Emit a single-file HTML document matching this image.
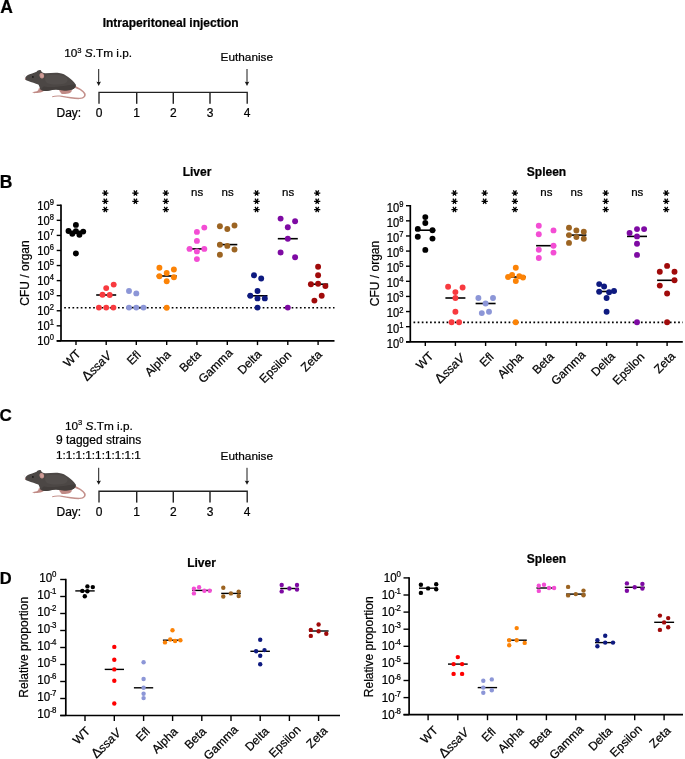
<!DOCTYPE html><html><head><meta charset="utf-8"><style>html,body{margin:0;padding:0;background:#fff;}svg{display:block;will-change:transform;}text{font-family:"Liberation Sans",sans-serif;fill:#000;stroke:#000;stroke-width:0.22px;}</style></head><body>
<svg width="685" height="759" viewBox="0 0 685 759">
<rect width="685" height="759" fill="#fff"/>
<text x="0.2" y="12.7" font-size="17.5" font-weight="bold">A</text>
<text x="-0.2" y="187.6" font-size="17.5" font-weight="bold">B</text>
<text x="-0.6" y="420.6" font-size="17" font-weight="bold">C</text>
<text x="-0.2" y="583.9" font-size="16.5" font-weight="bold">D</text>
<text x="170.7" y="26.9" font-size="12" font-weight="bold" text-anchor="middle">Intraperitoneal injection</text>
<text x="98.1" y="57.4" font-size="11.8" text-anchor="middle">10<tspan font-size="7.6" dy="-4.7">3</tspan><tspan dy="4.7"> <tspan font-style="italic">S</tspan>.Tm i.p.</tspan></text>
<g transform="translate(0,0)"><path d="M25.5 77.5 L23.8 74.8" stroke="#e4e0e0" stroke-width="0.6"/><path d="M74.8 85.8 C79 87.5 83.5 90 85.4 93.2 C86.6 96 84.6 98.6 80 99.1 C75 99.4 68 97.9 62 96.9 C58 96.4 54.8 96.5 52.3 97.3 L52.1 96.3 C55 95.3 58.5 95.2 62.2 95.8 C68 96.6 75 97.9 79.6 97.8 C83 97.6 84.4 96.2 84 94.2 C82.6 91.2 78.5 89.2 74.2 87.8 Z" fill="#c4918c"/><path d="M59.2 89.8 C61 89.4 66 89.2 71.3 89.6 C72.3 90.5 71.8 92.2 70 92.9 C68 93.6 65.5 93.9 63.5 94 C62 94 60.8 93.3 60.6 92.4 C59.8 91.6 59.2 90.8 59.2 89.8 Z" fill="#c08a85"/><path d="M38.8 88.2 C40.5 88.3 43.2 88.6 44.3 89.6 C44.4 90.8 43.5 91.6 42 92 C40 92.6 37.5 92.8 35.5 93.1 C33.8 93.3 32.4 93 32.5 92.3 C33.2 91.7 35 91.6 36.8 91.2 C38 90.8 38.6 89.8 38.8 88.2 Z" fill="#c08a85"/><path d="M25.0 78.7 C25.3 77.2 26.8 75.6 29 74.6 C31.5 73.5 34 72.7 36.6 71.7 C37.2 70.6 38.5 69.9 39.8 69.9 C40.8 69.9 41.3 70.6 41.4 71.6 C42.5 72.8 43.6 73.4 45.5 73.3 C50 73 55 72.6 59 72.9 C62.5 73.2 65.5 74.8 68.5 77.2 C71.5 79.6 74.2 82 75.5 84.2 C76.2 85.8 75.6 87.6 73.8 88.8 C71.5 90.2 68 90.6 64.5 90.4 C61.5 90.2 58.5 89.4 56 89.4 C52.5 89.6 49 90.6 45.5 90.9 C43 91 41 90.4 40.2 89.2 C39.6 87.6 39.4 85.8 38.3 84.6 C35.5 83.4 31.5 82.4 28.2 81.1 C26.2 80.3 24.9 79.6 25.0 78.7 Z" fill="#4c4745"/><path d="M44 86.5 C50 87.5 58 86.8 64 86 C68 85.4 72 84.5 75.6 84.6 C76 86.4 75.3 87.7 73.8 88.8 C71.5 90.2 68 90.6 64.5 90.4 C61.5 90.2 58.5 89.4 56 89.4 C52.5 89.6 49 90.6 45.5 90.9 C43.5 91 42 90.3 41.5 89.5 C41.8 88 42.6 87 44 86.5 Z" fill="#433e3c"/><path d="M47 75.2 C53 74.2 61 74.4 65.5 76.8 C68.5 79 68.2 82.2 64.5 83.6 C59 85 51.5 84.8 47.5 83.2 C44.8 81.8 44.2 77.2 47 75.2 Z" fill="#55504e" opacity="0.85"/><ellipse cx="41.8" cy="75.7" rx="2.3" ry="2.75" transform="rotate(-10 41.8 75.7)" fill="#c4918c"/><ellipse cx="42.1" cy="75.9" rx="1.2" ry="1.7" transform="rotate(-10 42.1 75.9)" fill="#cf9f9a"/><circle cx="32.9" cy="76.9" r="0.85" fill="#151212"/><circle cx="25.4" cy="78.8" r="0.65" fill="#c98f8f"/></g>
<path d="M99 103.80000000000001V92.4H247.2V103.80000000000001" stroke="#222" stroke-width="1.35" fill="none"/><path d="M136.7 92.4V103.80000000000001" stroke="#222" stroke-width="1.45"/><path d="M173.3 92.4V103.80000000000001" stroke="#222" stroke-width="1.45"/><path d="M210.0 92.4V103.80000000000001" stroke="#222" stroke-width="1.45"/><path d="M98.7 69V83" stroke="#1a1a1a" stroke-width="1"/><path d="M96.4 81.6Q98.7 82.6 101.0 81.6L98.7 86Z" fill="#1a1a1a"/><path d="M247 69V83" stroke="#1a1a1a" stroke-width="1"/><path d="M244.7 81.6Q247 82.6 249.3 81.6L247 86Z" fill="#1a1a1a"/><text x="56.5" y="117.4" font-size="12">Day:</text><text x="99" y="117.4" font-size="12" text-anchor="middle">0</text><text x="136.7" y="117.4" font-size="12" text-anchor="middle">1</text><text x="173.3" y="117.4" font-size="12" text-anchor="middle">2</text><text x="210.0" y="117.4" font-size="12" text-anchor="middle">3</text><text x="247.2" y="117.4" font-size="12" text-anchor="middle">4</text><text x="246.8" y="61" font-size="11.8" text-anchor="middle">Euthanise</text>
<text x="98.9" y="429.7" font-size="11.8" text-anchor="middle">10<tspan font-size="7.6" dy="-4.7">3</tspan><tspan dy="4.7"> <tspan font-style="italic">S</tspan>.Tm i.p.</tspan></text>
<text x="98.6" y="443.9" font-size="12" text-anchor="middle">9 tagged strains</text>
<text x="98.4" y="459.0" font-size="11.75" text-anchor="middle">1:1:1:1:1:1:1:1:1</text>
<g transform="translate(0,400)"><path d="M25.5 77.5 L23.8 74.8" stroke="#e4e0e0" stroke-width="0.6"/><path d="M74.8 85.8 C79 87.5 83.5 90 85.4 93.2 C86.6 96 84.6 98.6 80 99.1 C75 99.4 68 97.9 62 96.9 C58 96.4 54.8 96.5 52.3 97.3 L52.1 96.3 C55 95.3 58.5 95.2 62.2 95.8 C68 96.6 75 97.9 79.6 97.8 C83 97.6 84.4 96.2 84 94.2 C82.6 91.2 78.5 89.2 74.2 87.8 Z" fill="#c4918c"/><path d="M59.2 89.8 C61 89.4 66 89.2 71.3 89.6 C72.3 90.5 71.8 92.2 70 92.9 C68 93.6 65.5 93.9 63.5 94 C62 94 60.8 93.3 60.6 92.4 C59.8 91.6 59.2 90.8 59.2 89.8 Z" fill="#c08a85"/><path d="M38.8 88.2 C40.5 88.3 43.2 88.6 44.3 89.6 C44.4 90.8 43.5 91.6 42 92 C40 92.6 37.5 92.8 35.5 93.1 C33.8 93.3 32.4 93 32.5 92.3 C33.2 91.7 35 91.6 36.8 91.2 C38 90.8 38.6 89.8 38.8 88.2 Z" fill="#c08a85"/><path d="M25.0 78.7 C25.3 77.2 26.8 75.6 29 74.6 C31.5 73.5 34 72.7 36.6 71.7 C37.2 70.6 38.5 69.9 39.8 69.9 C40.8 69.9 41.3 70.6 41.4 71.6 C42.5 72.8 43.6 73.4 45.5 73.3 C50 73 55 72.6 59 72.9 C62.5 73.2 65.5 74.8 68.5 77.2 C71.5 79.6 74.2 82 75.5 84.2 C76.2 85.8 75.6 87.6 73.8 88.8 C71.5 90.2 68 90.6 64.5 90.4 C61.5 90.2 58.5 89.4 56 89.4 C52.5 89.6 49 90.6 45.5 90.9 C43 91 41 90.4 40.2 89.2 C39.6 87.6 39.4 85.8 38.3 84.6 C35.5 83.4 31.5 82.4 28.2 81.1 C26.2 80.3 24.9 79.6 25.0 78.7 Z" fill="#4c4745"/><path d="M44 86.5 C50 87.5 58 86.8 64 86 C68 85.4 72 84.5 75.6 84.6 C76 86.4 75.3 87.7 73.8 88.8 C71.5 90.2 68 90.6 64.5 90.4 C61.5 90.2 58.5 89.4 56 89.4 C52.5 89.6 49 90.6 45.5 90.9 C43.5 91 42 90.3 41.5 89.5 C41.8 88 42.6 87 44 86.5 Z" fill="#433e3c"/><path d="M47 75.2 C53 74.2 61 74.4 65.5 76.8 C68.5 79 68.2 82.2 64.5 83.6 C59 85 51.5 84.8 47.5 83.2 C44.8 81.8 44.2 77.2 47 75.2 Z" fill="#55504e" opacity="0.85"/><ellipse cx="41.8" cy="75.7" rx="2.3" ry="2.75" transform="rotate(-10 41.8 75.7)" fill="#c4918c"/><ellipse cx="42.1" cy="75.9" rx="1.2" ry="1.7" transform="rotate(-10 42.1 75.9)" fill="#cf9f9a"/><circle cx="32.9" cy="76.9" r="0.85" fill="#151212"/><circle cx="25.4" cy="78.8" r="0.65" fill="#c98f8f"/></g>
<path d="M99 502.6V491.20000000000005H247.2V502.6" stroke="#222" stroke-width="1.35" fill="none"/><path d="M136.7 491.20000000000005V502.6" stroke="#222" stroke-width="1.45"/><path d="M173.3 491.20000000000005V502.6" stroke="#222" stroke-width="1.45"/><path d="M210.0 491.20000000000005V502.6" stroke="#222" stroke-width="1.45"/><path d="M98.7 467.8V481.8" stroke="#1a1a1a" stroke-width="1"/><path d="M96.4 480.4Q98.7 481.4 101.0 480.4L98.7 484.8Z" fill="#1a1a1a"/><path d="M247 467.8V481.8" stroke="#1a1a1a" stroke-width="1"/><path d="M244.7 480.4Q247 481.4 249.3 480.4L247 484.8Z" fill="#1a1a1a"/><text x="56.5" y="516.2" font-size="12">Day:</text><text x="99" y="516.2" font-size="12" text-anchor="middle">0</text><text x="136.7" y="516.2" font-size="12" text-anchor="middle">1</text><text x="173.3" y="516.2" font-size="12" text-anchor="middle">2</text><text x="210.0" y="516.2" font-size="12" text-anchor="middle">3</text><text x="247.2" y="516.2" font-size="12" text-anchor="middle">4</text><text x="246.8" y="459.8" font-size="11.8" text-anchor="middle">Euthanise</text>
<path d="M61.0 204.57V340.9" stroke="#000" stroke-width="1.7"/><path d="M56.7 340.9H334.5" stroke="#000" stroke-width="1.7"/><path d="M56.7 340.90H61.0" stroke="#000" stroke-width="1.4"/><g transform="translate(54.0,345.15) scale(1,1.1)"><text x="0" y="0" font-size="11.2" text-anchor="end">10<tspan font-size="7.6" dy="-4.45">0</tspan></text></g><path d="M56.7 325.83H61.0" stroke="#000" stroke-width="1.4"/><g transform="translate(54.0,330.08) scale(1,1.1)"><text x="0" y="0" font-size="11.2" text-anchor="end">10<tspan font-size="7.6" dy="-4.45">1</tspan></text></g><path d="M56.7 310.76H61.0" stroke="#000" stroke-width="1.4"/><g transform="translate(54.0,315.01) scale(1,1.1)"><text x="0" y="0" font-size="11.2" text-anchor="end">10<tspan font-size="7.6" dy="-4.45">2</tspan></text></g><path d="M56.7 295.69H61.0" stroke="#000" stroke-width="1.4"/><g transform="translate(54.0,299.94) scale(1,1.1)"><text x="0" y="0" font-size="11.2" text-anchor="end">10<tspan font-size="7.6" dy="-4.45">3</tspan></text></g><path d="M56.7 280.62H61.0" stroke="#000" stroke-width="1.4"/><g transform="translate(54.0,284.87) scale(1,1.1)"><text x="0" y="0" font-size="11.2" text-anchor="end">10<tspan font-size="7.6" dy="-4.45">4</tspan></text></g><path d="M56.7 265.55H61.0" stroke="#000" stroke-width="1.4"/><g transform="translate(54.0,269.80) scale(1,1.1)"><text x="0" y="0" font-size="11.2" text-anchor="end">10<tspan font-size="7.6" dy="-4.45">5</tspan></text></g><path d="M56.7 250.48H61.0" stroke="#000" stroke-width="1.4"/><g transform="translate(54.0,254.73) scale(1,1.1)"><text x="0" y="0" font-size="11.2" text-anchor="end">10<tspan font-size="7.6" dy="-4.45">6</tspan></text></g><path d="M56.7 235.41H61.0" stroke="#000" stroke-width="1.4"/><g transform="translate(54.0,239.66) scale(1,1.1)"><text x="0" y="0" font-size="11.2" text-anchor="end">10<tspan font-size="7.6" dy="-4.45">7</tspan></text></g><path d="M56.7 220.34H61.0" stroke="#000" stroke-width="1.4"/><g transform="translate(54.0,224.59) scale(1,1.1)"><text x="0" y="0" font-size="11.2" text-anchor="end">10<tspan font-size="7.6" dy="-4.45">8</tspan></text></g><path d="M56.7 205.27H61.0" stroke="#000" stroke-width="1.4"/><g transform="translate(54.0,209.52) scale(1,1.1)"><text x="0" y="0" font-size="11.2" text-anchor="end">10<tspan font-size="7.6" dy="-4.45">9</tspan></text></g><path d="M76.0 340.9V345.09999999999997" stroke="#000" stroke-width="1.4"/><path d="M106.2 340.9V345.09999999999997" stroke="#000" stroke-width="1.4"/><path d="M136.3 340.9V345.09999999999997" stroke="#000" stroke-width="1.4"/><path d="M166.7 340.9V345.09999999999997" stroke="#000" stroke-width="1.4"/><path d="M196.9 340.9V345.09999999999997" stroke="#000" stroke-width="1.4"/><path d="M227.3 340.9V345.09999999999997" stroke="#000" stroke-width="1.4"/><path d="M257.5 340.9V345.09999999999997" stroke="#000" stroke-width="1.4"/><path d="M287.8 340.9V345.09999999999997" stroke="#000" stroke-width="1.4"/><path d="M318.1 340.9V345.09999999999997" stroke="#000" stroke-width="1.4"/><path d="M64.2 307.8H334.5" stroke="#000" stroke-width="1.6" stroke-dasharray="1.7 2.435"/><path d="M66.00 231.4H86.00" stroke="#000" stroke-width="1.6"/><path d="M96.20 295.0H116.20" stroke="#000" stroke-width="1.6"/><path d="M126.30 307.6H146.30" stroke="#000" stroke-width="1.6"/><path d="M156.70 276.0H176.70" stroke="#000" stroke-width="1.6"/><path d="M186.90 248.9H206.90" stroke="#000" stroke-width="1.6"/><path d="M217.30 244.6H237.30" stroke="#000" stroke-width="1.6"/><path d="M247.50 295.8H267.50" stroke="#000" stroke-width="1.6"/><path d="M277.80 238.7H297.80" stroke="#000" stroke-width="1.6"/><path d="M308.10 284.2H328.10" stroke="#000" stroke-width="1.6"/><circle cx="75.9" cy="224.9" r="2.95" fill="#000000"/><circle cx="68.5" cy="231.0" r="2.95" fill="#000000"/><circle cx="72.3" cy="233.8" r="2.95" fill="#000000"/><circle cx="75.9" cy="231.2" r="2.95" fill="#000000"/><circle cx="79.4" cy="234.7" r="2.95" fill="#000000"/><circle cx="83.2" cy="231.6" r="2.95" fill="#000000"/><circle cx="75.9" cy="253.5" r="2.95" fill="#000000"/><circle cx="113.7" cy="284.6" r="2.95" fill="#f83a3f"/><circle cx="106.2" cy="288.1" r="2.95" fill="#f83a3f"/><circle cx="102.5" cy="294.7" r="2.95" fill="#f83a3f"/><circle cx="109.7" cy="295.0" r="2.95" fill="#f83a3f"/><circle cx="98.9" cy="307.6" r="2.95" fill="#f83a3f"/><circle cx="106.2" cy="307.6" r="2.95" fill="#f83a3f"/><circle cx="113.4" cy="307.6" r="2.95" fill="#f83a3f"/><circle cx="129.0" cy="291.0" r="2.95" fill="#8c96d7"/><circle cx="136.3" cy="293.4" r="2.95" fill="#8c96d7"/><circle cx="129.0" cy="307.6" r="2.95" fill="#8c96d7"/><circle cx="136.3" cy="307.6" r="2.95" fill="#8c96d7"/><circle cx="143.5" cy="307.6" r="2.95" fill="#8c96d7"/><circle cx="159.4" cy="267.7" r="2.95" fill="#fc8306"/><circle cx="173.9" cy="269.5" r="2.95" fill="#fc8306"/><circle cx="166.7" cy="273.0" r="2.95" fill="#fc8306"/><circle cx="159.4" cy="276.3" r="2.95" fill="#fc8306"/><circle cx="173.9" cy="277.3" r="2.95" fill="#fc8306"/><circle cx="166.7" cy="281.3" r="2.95" fill="#fc8306"/><circle cx="166.7" cy="307.7" r="2.95" fill="#fc8306"/><circle cx="204.3" cy="227.6" r="2.95" fill="#f34dd4"/><circle cx="196.9" cy="231.9" r="2.95" fill="#f34dd4"/><circle cx="196.9" cy="240.9" r="2.95" fill="#f34dd4"/><circle cx="189.6" cy="248.9" r="2.95" fill="#f34dd4"/><circle cx="204.3" cy="248.9" r="2.95" fill="#f34dd4"/><circle cx="196.9" cy="251.4" r="2.95" fill="#f34dd4"/><circle cx="196.9" cy="259.1" r="2.95" fill="#f34dd4"/><circle cx="219.9" cy="226.3" r="2.95" fill="#9c6422"/><circle cx="227.3" cy="229.0" r="2.95" fill="#9c6422"/><circle cx="234.5" cy="225.5" r="2.95" fill="#9c6422"/><circle cx="219.9" cy="244.8" r="2.95" fill="#9c6422"/><circle cx="227.3" cy="245.9" r="2.95" fill="#9c6422"/><circle cx="234.5" cy="249.5" r="2.95" fill="#9c6422"/><circle cx="219.9" cy="254.7" r="2.95" fill="#9c6422"/><circle cx="254.0" cy="275.3" r="2.95" fill="#0e1a80"/><circle cx="261.2" cy="278.5" r="2.95" fill="#0e1a80"/><circle cx="257.5" cy="291.0" r="2.95" fill="#0e1a80"/><circle cx="250.3" cy="295.8" r="2.95" fill="#0e1a80"/><circle cx="257.5" cy="298.4" r="2.95" fill="#0e1a80"/><circle cx="264.8" cy="298.4" r="2.95" fill="#0e1a80"/><circle cx="257.5" cy="307.6" r="2.95" fill="#0e1a80"/><circle cx="280.6" cy="218.6" r="2.95" fill="#7e0aa3"/><circle cx="295.1" cy="221.3" r="2.95" fill="#7e0aa3"/><circle cx="287.8" cy="227.3" r="2.95" fill="#7e0aa3"/><circle cx="287.8" cy="238.7" r="2.95" fill="#7e0aa3"/><circle cx="280.6" cy="252.5" r="2.95" fill="#7e0aa3"/><circle cx="295.1" cy="257.2" r="2.95" fill="#7e0aa3"/><circle cx="287.8" cy="307.6" r="2.95" fill="#7e0aa3"/><circle cx="318.1" cy="266.8" r="2.95" fill="#a00a0a"/><circle cx="318.1" cy="275.2" r="2.95" fill="#a00a0a"/><circle cx="310.9" cy="284.2" r="2.95" fill="#a00a0a"/><circle cx="318.1" cy="283.8" r="2.95" fill="#a00a0a"/><circle cx="325.4" cy="286.1" r="2.95" fill="#a00a0a"/><circle cx="321.7" cy="295.8" r="2.95" fill="#a00a0a"/><circle cx="314.4" cy="300.6" r="2.95" fill="#a00a0a"/><path d="M102.20 193.00L108.40 193.00M103.75 190.32L106.85 195.68M106.85 190.32L103.75 195.68" stroke="#000" stroke-width="1.25" fill="none"/><path d="M102.20 201.25L108.40 201.25M103.75 198.57L106.85 203.93M106.85 198.57L103.75 203.93" stroke="#000" stroke-width="1.25" fill="none"/><path d="M102.20 209.50L108.40 209.50M103.75 206.82L106.85 212.18M106.85 206.82L103.75 212.18" stroke="#000" stroke-width="1.25" fill="none"/><path d="M132.30 193.00L138.50 193.00M133.85 190.32L136.95 195.68M136.95 190.32L133.85 195.68" stroke="#000" stroke-width="1.25" fill="none"/><path d="M132.30 201.25L138.50 201.25M133.85 198.57L136.95 203.93M136.95 198.57L133.85 203.93" stroke="#000" stroke-width="1.25" fill="none"/><path d="M162.70 193.00L168.90 193.00M164.25 190.32L167.35 195.68M167.35 190.32L164.25 195.68" stroke="#000" stroke-width="1.25" fill="none"/><path d="M162.70 201.25L168.90 201.25M164.25 198.57L167.35 203.93M167.35 198.57L164.25 203.93" stroke="#000" stroke-width="1.25" fill="none"/><path d="M162.70 209.50L168.90 209.50M164.25 206.82L167.35 212.18M167.35 206.82L164.25 212.18" stroke="#000" stroke-width="1.25" fill="none"/><text x="197.20" y="196.2" font-size="11.5" text-anchor="middle">ns</text><text x="227.60" y="196.2" font-size="11.5" text-anchor="middle">ns</text><path d="M253.50 193.00L259.70 193.00M255.05 190.32L258.15 195.68M258.15 190.32L255.05 195.68" stroke="#000" stroke-width="1.25" fill="none"/><path d="M253.50 201.25L259.70 201.25M255.05 198.57L258.15 203.93M258.15 198.57L255.05 203.93" stroke="#000" stroke-width="1.25" fill="none"/><path d="M253.50 209.50L259.70 209.50M255.05 206.82L258.15 212.18M258.15 206.82L255.05 212.18" stroke="#000" stroke-width="1.25" fill="none"/><text x="288.10" y="196.2" font-size="11.5" text-anchor="middle">ns</text><path d="M314.10 193.00L320.30 193.00M315.65 190.32L318.75 195.68M318.75 190.32L315.65 195.68" stroke="#000" stroke-width="1.25" fill="none"/><path d="M314.10 201.25L320.30 201.25M315.65 198.57L318.75 203.93M318.75 198.57L315.65 203.93" stroke="#000" stroke-width="1.25" fill="none"/><path d="M314.10 209.50L320.30 209.50M315.65 206.82L318.75 212.18M318.75 206.82L315.65 212.18" stroke="#000" stroke-width="1.25" fill="none"/><text transform="translate(29.0,273.0) rotate(-90)" font-size="12" text-anchor="middle">CFU / organ</text><text class="xl" transform="translate(81.50,354.50) rotate(-45)" font-size="12" text-anchor="end">WT</text><text class="xl" transform="translate(112.25,356.50) rotate(-45)" font-size="12" text-anchor="end"><tspan font-size="13.6">Δ</tspan><tspan font-style="italic">ssaV</tspan></text><text class="xl" transform="translate(141.60,355.70) rotate(-45)" font-size="12" text-anchor="end">Efl</text><text class="xl" transform="translate(171.50,355.35) rotate(-45)" font-size="12" text-anchor="end">Alpha</text><text class="xl" transform="translate(201.60,355.40) rotate(-45)" font-size="12" text-anchor="end">Beta</text><text class="xl" transform="translate(233.40,353.60) rotate(-45)" font-size="12" text-anchor="end">Gamma</text><text class="xl" transform="translate(262.20,355.10) rotate(-45)" font-size="12" text-anchor="end">Delta</text><text class="xl" transform="translate(292.20,355.90) rotate(-45)" font-size="12" text-anchor="end">Epsilon</text><text class="xl" transform="translate(322.80,355.30) rotate(-45)" font-size="12" text-anchor="end">Zeta</text>
<text x="197" y="175.6" font-size="12" font-weight="bold" text-anchor="middle">Liver</text>
<path d="M410.3 205.02000000000004V341.8" stroke="#000" stroke-width="1.7"/><path d="M406.0 341.8H682.8" stroke="#000" stroke-width="1.7"/><path d="M406.0 341.80H410.3" stroke="#000" stroke-width="1.4"/><g transform="translate(403.4,347.65) scale(1,1.1)"><text x="0" y="0" font-size="11.2" text-anchor="end">10<tspan font-size="7.6" dy="-4.45">0</tspan></text></g><path d="M406.0 326.68H410.3" stroke="#000" stroke-width="1.4"/><g transform="translate(403.4,332.53) scale(1,1.1)"><text x="0" y="0" font-size="11.2" text-anchor="end">10<tspan font-size="7.6" dy="-4.45">1</tspan></text></g><path d="M406.0 311.56H410.3" stroke="#000" stroke-width="1.4"/><g transform="translate(403.4,317.41) scale(1,1.1)"><text x="0" y="0" font-size="11.2" text-anchor="end">10<tspan font-size="7.6" dy="-4.45">2</tspan></text></g><path d="M406.0 296.44H410.3" stroke="#000" stroke-width="1.4"/><g transform="translate(403.4,302.29) scale(1,1.1)"><text x="0" y="0" font-size="11.2" text-anchor="end">10<tspan font-size="7.6" dy="-4.45">3</tspan></text></g><path d="M406.0 281.32H410.3" stroke="#000" stroke-width="1.4"/><g transform="translate(403.4,287.17) scale(1,1.1)"><text x="0" y="0" font-size="11.2" text-anchor="end">10<tspan font-size="7.6" dy="-4.45">4</tspan></text></g><path d="M406.0 266.20H410.3" stroke="#000" stroke-width="1.4"/><g transform="translate(403.4,272.05) scale(1,1.1)"><text x="0" y="0" font-size="11.2" text-anchor="end">10<tspan font-size="7.6" dy="-4.45">5</tspan></text></g><path d="M406.0 251.08H410.3" stroke="#000" stroke-width="1.4"/><g transform="translate(403.4,256.93) scale(1,1.1)"><text x="0" y="0" font-size="11.2" text-anchor="end">10<tspan font-size="7.6" dy="-4.45">6</tspan></text></g><path d="M406.0 235.96H410.3" stroke="#000" stroke-width="1.4"/><g transform="translate(403.4,241.81) scale(1,1.1)"><text x="0" y="0" font-size="11.2" text-anchor="end">10<tspan font-size="7.6" dy="-4.45">7</tspan></text></g><path d="M406.0 220.84H410.3" stroke="#000" stroke-width="1.4"/><g transform="translate(403.4,226.69) scale(1,1.1)"><text x="0" y="0" font-size="11.2" text-anchor="end">10<tspan font-size="7.6" dy="-4.45">8</tspan></text></g><path d="M406.0 205.72H410.3" stroke="#000" stroke-width="1.4"/><g transform="translate(403.4,211.57) scale(1,1.1)"><text x="0" y="0" font-size="11.2" text-anchor="end">10<tspan font-size="7.6" dy="-4.45">9</tspan></text></g><path d="M425.3 341.8V346.0" stroke="#000" stroke-width="1.4"/><path d="M455.4 341.8V346.0" stroke="#000" stroke-width="1.4"/><path d="M485.6 341.8V346.0" stroke="#000" stroke-width="1.4"/><path d="M515.8 341.8V346.0" stroke="#000" stroke-width="1.4"/><path d="M546.1 341.8V346.0" stroke="#000" stroke-width="1.4"/><path d="M576.4 341.8V346.0" stroke="#000" stroke-width="1.4"/><path d="M606.6 341.8V346.0" stroke="#000" stroke-width="1.4"/><path d="M637.0 341.8V346.0" stroke="#000" stroke-width="1.4"/><path d="M667.1 341.8V346.0" stroke="#000" stroke-width="1.4"/><path d="M413.5 322.35H682.8" stroke="#000" stroke-width="1.6" stroke-dasharray="1.7 2.435"/><path d="M415.30 230.2H435.30" stroke="#000" stroke-width="1.6"/><path d="M445.40 298.0H465.40" stroke="#000" stroke-width="1.6"/><path d="M475.60 303.5H495.60" stroke="#000" stroke-width="1.6"/><path d="M505.80 277.0H525.80" stroke="#000" stroke-width="1.6"/><path d="M536.10 245.7H556.10" stroke="#000" stroke-width="1.6"/><path d="M566.40 235.1H586.40" stroke="#000" stroke-width="1.6"/><path d="M596.60 291.5H616.60" stroke="#000" stroke-width="1.6"/><path d="M627.00 236.4H647.00" stroke="#000" stroke-width="1.6"/><path d="M657.10 280.3H677.10" stroke="#000" stroke-width="1.6"/><circle cx="425.3" cy="217.1" r="2.95" fill="#000000"/><circle cx="425.3" cy="223.0" r="2.95" fill="#000000"/><circle cx="417.8" cy="228.9" r="2.95" fill="#000000"/><circle cx="432.5" cy="230.2" r="2.95" fill="#000000"/><circle cx="417.8" cy="236.8" r="2.95" fill="#000000"/><circle cx="432.5" cy="238.6" r="2.95" fill="#000000"/><circle cx="425.3" cy="249.9" r="2.95" fill="#000000"/><circle cx="448.1" cy="286.7" r="2.95" fill="#f83a3f"/><circle cx="462.6" cy="287.5" r="2.95" fill="#f83a3f"/><circle cx="455.4" cy="292.1" r="2.95" fill="#f83a3f"/><circle cx="455.4" cy="298.0" r="2.95" fill="#f83a3f"/><circle cx="455.4" cy="311.8" r="2.95" fill="#f83a3f"/><circle cx="451.6" cy="322.3" r="2.95" fill="#f83a3f"/><circle cx="459.1" cy="322.3" r="2.95" fill="#f83a3f"/><circle cx="478.4" cy="298.0" r="2.95" fill="#8c96d7"/><circle cx="493.0" cy="298.0" r="2.95" fill="#8c96d7"/><circle cx="485.6" cy="303.5" r="2.95" fill="#8c96d7"/><circle cx="481.8" cy="313.1" r="2.95" fill="#8c96d7"/><circle cx="489.0" cy="311.8" r="2.95" fill="#8c96d7"/><circle cx="515.8" cy="267.8" r="2.95" fill="#fc8306"/><circle cx="512.1" cy="274.9" r="2.95" fill="#fc8306"/><circle cx="519.3" cy="276.2" r="2.95" fill="#fc8306"/><circle cx="508.1" cy="277.0" r="2.95" fill="#fc8306"/><circle cx="523.0" cy="277.5" r="2.95" fill="#fc8306"/><circle cx="515.8" cy="281.0" r="2.95" fill="#fc8306"/><circle cx="515.7" cy="322.3" r="2.95" fill="#fc8306"/><circle cx="538.8" cy="225.8" r="2.95" fill="#f34dd4"/><circle cx="553.5" cy="230.4" r="2.95" fill="#f34dd4"/><circle cx="538.8" cy="234.3" r="2.95" fill="#f34dd4"/><circle cx="553.5" cy="245.7" r="2.95" fill="#f34dd4"/><circle cx="538.8" cy="249.7" r="2.95" fill="#f34dd4"/><circle cx="553.5" cy="252.6" r="2.95" fill="#f34dd4"/><circle cx="538.8" cy="258.0" r="2.95" fill="#f34dd4"/><circle cx="569.0" cy="227.7" r="2.95" fill="#9c6422"/><circle cx="576.4" cy="230.5" r="2.95" fill="#9c6422"/><circle cx="583.8" cy="231.8" r="2.95" fill="#9c6422"/><circle cx="569.0" cy="235.1" r="2.95" fill="#9c6422"/><circle cx="576.4" cy="237.1" r="2.95" fill="#9c6422"/><circle cx="583.8" cy="238.8" r="2.95" fill="#9c6422"/><circle cx="569.0" cy="242.9" r="2.95" fill="#9c6422"/><circle cx="599.2" cy="284.1" r="2.95" fill="#0e1a80"/><circle cx="604.1" cy="286.5" r="2.95" fill="#0e1a80"/><circle cx="599.2" cy="291.8" r="2.95" fill="#0e1a80"/><circle cx="609.1" cy="292.3" r="2.95" fill="#0e1a80"/><circle cx="614.0" cy="291.0" r="2.95" fill="#0e1a80"/><circle cx="606.6" cy="298.0" r="2.95" fill="#0e1a80"/><circle cx="606.6" cy="311.7" r="2.95" fill="#0e1a80"/><circle cx="629.6" cy="233.0" r="2.95" fill="#7e0aa3"/><circle cx="637.0" cy="229.1" r="2.95" fill="#7e0aa3"/><circle cx="644.1" cy="229.1" r="2.95" fill="#7e0aa3"/><circle cx="637.0" cy="236.4" r="2.95" fill="#7e0aa3"/><circle cx="637.0" cy="243.8" r="2.95" fill="#7e0aa3"/><circle cx="637.0" cy="254.9" r="2.95" fill="#7e0aa3"/><circle cx="637.0" cy="322.2" r="2.95" fill="#7e0aa3"/><circle cx="667.1" cy="265.9" r="2.95" fill="#a00a0a"/><circle cx="659.8" cy="271.8" r="2.95" fill="#a00a0a"/><circle cx="674.5" cy="271.8" r="2.95" fill="#a00a0a"/><circle cx="674.5" cy="280.3" r="2.95" fill="#a00a0a"/><circle cx="659.8" cy="285.6" r="2.95" fill="#a00a0a"/><circle cx="667.1" cy="293.5" r="2.95" fill="#a00a0a"/><circle cx="667.1" cy="322.2" r="2.95" fill="#a00a0a"/><path d="M451.40 193.00L457.60 193.00M452.95 190.32L456.05 195.68M456.05 190.32L452.95 195.68" stroke="#000" stroke-width="1.25" fill="none"/><path d="M451.40 201.25L457.60 201.25M452.95 198.57L456.05 203.93M456.05 198.57L452.95 203.93" stroke="#000" stroke-width="1.25" fill="none"/><path d="M451.40 209.50L457.60 209.50M452.95 206.82L456.05 212.18M456.05 206.82L452.95 212.18" stroke="#000" stroke-width="1.25" fill="none"/><path d="M481.60 193.00L487.80 193.00M483.15 190.32L486.25 195.68M486.25 190.32L483.15 195.68" stroke="#000" stroke-width="1.25" fill="none"/><path d="M481.60 201.25L487.80 201.25M483.15 198.57L486.25 203.93M486.25 198.57L483.15 203.93" stroke="#000" stroke-width="1.25" fill="none"/><path d="M511.80 193.00L518.00 193.00M513.35 190.32L516.45 195.68M516.45 190.32L513.35 195.68" stroke="#000" stroke-width="1.25" fill="none"/><path d="M511.80 201.25L518.00 201.25M513.35 198.57L516.45 203.93M516.45 198.57L513.35 203.93" stroke="#000" stroke-width="1.25" fill="none"/><path d="M511.80 209.50L518.00 209.50M513.35 206.82L516.45 212.18M516.45 206.82L513.35 212.18" stroke="#000" stroke-width="1.25" fill="none"/><text x="546.40" y="196.2" font-size="11.5" text-anchor="middle">ns</text><text x="576.70" y="196.2" font-size="11.5" text-anchor="middle">ns</text><path d="M602.60 193.00L608.80 193.00M604.15 190.32L607.25 195.68M607.25 190.32L604.15 195.68" stroke="#000" stroke-width="1.25" fill="none"/><path d="M602.60 201.25L608.80 201.25M604.15 198.57L607.25 203.93M607.25 198.57L604.15 203.93" stroke="#000" stroke-width="1.25" fill="none"/><path d="M602.60 209.50L608.80 209.50M604.15 206.82L607.25 212.18M607.25 206.82L604.15 212.18" stroke="#000" stroke-width="1.25" fill="none"/><text x="637.30" y="196.2" font-size="11.5" text-anchor="middle">ns</text><path d="M663.10 193.00L669.30 193.00M664.65 190.32L667.75 195.68M667.75 190.32L664.65 195.68" stroke="#000" stroke-width="1.25" fill="none"/><path d="M663.10 201.25L669.30 201.25M664.65 198.57L667.75 203.93M667.75 198.57L664.65 203.93" stroke="#000" stroke-width="1.25" fill="none"/><path d="M663.10 209.50L669.30 209.50M664.65 206.82L667.75 212.18M667.75 206.82L664.65 212.18" stroke="#000" stroke-width="1.25" fill="none"/><text transform="translate(378.5,273.5) rotate(-90)" font-size="12" text-anchor="middle">CFU / organ</text><text class="xl" transform="translate(434.30,356.90) rotate(-45)" font-size="12" text-anchor="end">WT</text><text class="xl" transform="translate(465.30,359.00) rotate(-45)" font-size="12" text-anchor="end"><tspan font-size="13.6">Δ</tspan><tspan font-style="italic">ssaV</tspan></text><text class="xl" transform="translate(494.50,357.60) rotate(-45)" font-size="12" text-anchor="end">Efl</text><text class="xl" transform="translate(524.10,357.40) rotate(-45)" font-size="12" text-anchor="end">Alpha</text><text class="xl" transform="translate(554.70,357.40) rotate(-45)" font-size="12" text-anchor="end">Beta</text><text class="xl" transform="translate(586.20,355.60) rotate(-45)" font-size="12" text-anchor="end">Gamma</text><text class="xl" transform="translate(615.80,357.15) rotate(-45)" font-size="12" text-anchor="end">Delta</text><text class="xl" transform="translate(645.30,357.65) rotate(-45)" font-size="12" text-anchor="end">Epsilon</text><text class="xl" transform="translate(675.90,357.00) rotate(-45)" font-size="12" text-anchor="end">Zeta</text>
<text x="546.5" y="175.8" font-size="12" font-weight="bold" text-anchor="middle">Spleen</text>
<path d="M65.8 578.8V715.5" stroke="#000" stroke-width="1.7"/><path d="M60.199999999999996 715.5H340.0" stroke="#000" stroke-width="1.7"/><path d="M60.199999999999996 715.50H65.8" stroke="#000" stroke-width="1.4"/><g transform="translate(56.5,717.95) scale(1,1.1)"><text x="0" y="0" font-size="11.6" text-anchor="end">10<tspan font-size="7.9" dy="-4.45"><tspan font-size="6.32">-</tspan><tspan dx="-0.2">8</tspan></tspan></text></g><path d="M60.199999999999996 698.50H65.8" stroke="#000" stroke-width="1.4"/><g transform="translate(56.5,700.95) scale(1,1.1)"><text x="0" y="0" font-size="11.6" text-anchor="end">10<tspan font-size="7.9" dy="-4.45"><tspan font-size="6.32">-</tspan><tspan dx="-0.2">7</tspan></tspan></text></g><path d="M60.199999999999996 681.50H65.8" stroke="#000" stroke-width="1.4"/><g transform="translate(56.5,683.95) scale(1,1.1)"><text x="0" y="0" font-size="11.6" text-anchor="end">10<tspan font-size="7.9" dy="-4.45"><tspan font-size="6.32">-</tspan><tspan dx="-0.2">6</tspan></tspan></text></g><path d="M60.199999999999996 664.50H65.8" stroke="#000" stroke-width="1.4"/><g transform="translate(56.5,666.95) scale(1,1.1)"><text x="0" y="0" font-size="11.6" text-anchor="end">10<tspan font-size="7.9" dy="-4.45"><tspan font-size="6.32">-</tspan><tspan dx="-0.2">5</tspan></tspan></text></g><path d="M60.199999999999996 647.50H65.8" stroke="#000" stroke-width="1.4"/><g transform="translate(56.5,649.95) scale(1,1.1)"><text x="0" y="0" font-size="11.6" text-anchor="end">10<tspan font-size="7.9" dy="-4.45"><tspan font-size="6.32">-</tspan><tspan dx="-0.2">4</tspan></tspan></text></g><path d="M60.199999999999996 630.50H65.8" stroke="#000" stroke-width="1.4"/><g transform="translate(56.5,632.95) scale(1,1.1)"><text x="0" y="0" font-size="11.6" text-anchor="end">10<tspan font-size="7.9" dy="-4.45"><tspan font-size="6.32">-</tspan><tspan dx="-0.2">3</tspan></tspan></text></g><path d="M60.199999999999996 613.50H65.8" stroke="#000" stroke-width="1.4"/><g transform="translate(56.5,615.95) scale(1,1.1)"><text x="0" y="0" font-size="11.6" text-anchor="end">10<tspan font-size="7.9" dy="-4.45"><tspan font-size="6.32">-</tspan><tspan dx="-0.2">2</tspan></tspan></text></g><path d="M60.199999999999996 596.50H65.8" stroke="#000" stroke-width="1.4"/><g transform="translate(56.5,598.95) scale(1,1.1)"><text x="0" y="0" font-size="11.6" text-anchor="end">10<tspan font-size="7.9" dy="-4.45"><tspan font-size="6.32">-</tspan><tspan dx="-0.2">1</tspan></tspan></text></g><path d="M60.199999999999996 579.50H65.8" stroke="#000" stroke-width="1.4"/><g transform="translate(56.5,581.95) scale(1,1.1)"><text x="0" y="0" font-size="11.6" text-anchor="end">10<tspan font-size="7.9" dy="-4.45">0</tspan></text></g><path d="M85.0 715.5V721.0" stroke="#000" stroke-width="1.4"/><path d="M114.3 715.5V721.0" stroke="#000" stroke-width="1.4"/><path d="M143.6 715.5V721.0" stroke="#000" stroke-width="1.4"/><path d="M172.6 715.5V721.0" stroke="#000" stroke-width="1.4"/><path d="M201.8 715.5V721.0" stroke="#000" stroke-width="1.4"/><path d="M231.0 715.5V721.0" stroke="#000" stroke-width="1.4"/><path d="M260.2 715.5V721.0" stroke="#000" stroke-width="1.4"/><path d="M289.4 715.5V721.0" stroke="#000" stroke-width="1.4"/><path d="M318.6 715.5V721.0" stroke="#000" stroke-width="1.4"/><path d="M75.3 590.9H94.7" stroke="#000" stroke-width="1.4"/><path d="M104.7 669.4H124.0" stroke="#000" stroke-width="1.4"/><path d="M133.9 687.8H153.2" stroke="#000" stroke-width="1.4"/><path d="M162.9 640.2H181.8" stroke="#000" stroke-width="1.4"/><path d="M192.0 590.4H211.5" stroke="#000" stroke-width="1.4"/><path d="M221.2 593.4H240.8" stroke="#000" stroke-width="1.4"/><path d="M250.4 651.3H269.9" stroke="#000" stroke-width="1.4"/><path d="M280.2 588.5H299.0" stroke="#000" stroke-width="1.4"/><path d="M309.0 631.0H328.6" stroke="#000" stroke-width="1.4"/><circle cx="87.4" cy="586.4" r="2.2" fill="#000000"/><circle cx="92.8" cy="587.1" r="2.2" fill="#000000"/><circle cx="82.3" cy="590.9" r="2.2" fill="#000000"/><circle cx="87.4" cy="591.2" r="2.2" fill="#000000"/><circle cx="84.8" cy="596.3" r="2.2" fill="#000000"/><circle cx="114.3" cy="646.9" r="2.2" fill="#fe0000"/><circle cx="114.3" cy="659.7" r="2.2" fill="#fe0000"/><circle cx="114.3" cy="669.4" r="2.2" fill="#fe0000"/><circle cx="114.3" cy="680.7" r="2.2" fill="#fe0000"/><circle cx="114.3" cy="703.5" r="2.2" fill="#fe0000"/><circle cx="143.6" cy="662.2" r="2.2" fill="#8c96d7"/><circle cx="143.6" cy="679.0" r="2.2" fill="#8c96d7"/><circle cx="143.6" cy="687.8" r="2.2" fill="#8c96d7"/><circle cx="143.6" cy="693.7" r="2.2" fill="#8c96d7"/><circle cx="143.6" cy="698.1" r="2.2" fill="#8c96d7"/><circle cx="172.5" cy="630.2" r="2.2" fill="#fc8306"/><circle cx="165.0" cy="642.4" r="2.2" fill="#fc8306"/><circle cx="170.2" cy="639.5" r="2.2" fill="#fc8306"/><circle cx="175.1" cy="641.0" r="2.2" fill="#fc8306"/><circle cx="180.4" cy="640.3" r="2.2" fill="#fc8306"/><circle cx="193.9" cy="588.7" r="2.2" fill="#f34dd4"/><circle cx="199.1" cy="587.3" r="2.2" fill="#f34dd4"/><circle cx="193.9" cy="593.4" r="2.2" fill="#f34dd4"/><circle cx="204.4" cy="590.8" r="2.2" fill="#f34dd4"/><circle cx="209.7" cy="590.8" r="2.2" fill="#f34dd4"/><circle cx="223.3" cy="587.8" r="2.2" fill="#9c6422"/><circle cx="223.3" cy="596.5" r="2.2" fill="#9c6422"/><circle cx="230.9" cy="593.4" r="2.2" fill="#9c6422"/><circle cx="238.7" cy="591.6" r="2.2" fill="#9c6422"/><circle cx="238.7" cy="596.0" r="2.2" fill="#9c6422"/><circle cx="260.2" cy="639.8" r="2.2" fill="#0e1a80"/><circle cx="256.1" cy="651.2" r="2.2" fill="#0e1a80"/><circle cx="264.5" cy="650.1" r="2.2" fill="#0e1a80"/><circle cx="260.2" cy="655.8" r="2.2" fill="#0e1a80"/><circle cx="260.2" cy="664.2" r="2.2" fill="#0e1a80"/><circle cx="281.7" cy="585.0" r="2.2" fill="#7e0aa3"/><circle cx="297.0" cy="585.0" r="2.2" fill="#7e0aa3"/><circle cx="289.4" cy="588.5" r="2.2" fill="#7e0aa3"/><circle cx="281.7" cy="591.4" r="2.2" fill="#7e0aa3"/><circle cx="297.0" cy="589.6" r="2.2" fill="#7e0aa3"/><circle cx="318.6" cy="624.5" r="2.2" fill="#a00a0a"/><circle cx="310.8" cy="629.9" r="2.2" fill="#a00a0a"/><circle cx="318.6" cy="631.3" r="2.2" fill="#a00a0a"/><circle cx="310.8" cy="635.9" r="2.2" fill="#a00a0a"/><circle cx="326.3" cy="633.7" r="2.2" fill="#a00a0a"/><text transform="translate(28.0,647.3) rotate(-90)" font-size="12" text-anchor="middle">Relative proportion</text><text class="xl" transform="translate(91.05,731.70) rotate(-45)" font-size="12" text-anchor="end">WT</text><text class="xl" transform="translate(121.70,733.80) rotate(-45)" font-size="12" text-anchor="end"><tspan font-size="13.6">Δ</tspan><tspan font-style="italic">ssaV</tspan></text><text class="xl" transform="translate(150.65,732.10) rotate(-45)" font-size="12" text-anchor="end">Efl</text><text class="xl" transform="translate(178.50,732.35) rotate(-45)" font-size="12" text-anchor="end">Alpha</text><text class="xl" transform="translate(206.85,732.25) rotate(-45)" font-size="12" text-anchor="end">Beta</text><text class="xl" transform="translate(238.75,730.30) rotate(-45)" font-size="12" text-anchor="end">Gamma</text><text class="xl" transform="translate(269.75,732.00) rotate(-45)" font-size="12" text-anchor="end">Delta</text><text class="xl" transform="translate(301.50,730.35) rotate(-45)" font-size="12" text-anchor="end">Epsilon</text><text class="xl" transform="translate(328.20,731.65) rotate(-45)" font-size="12" text-anchor="end">Zeta</text>
<text x="201.5" y="566.6" font-size="12" font-weight="bold" text-anchor="middle">Liver</text>
<path d="M409.1 577.2V714.7" stroke="#000" stroke-width="1.7"/><path d="M403.5 714.7H683.0" stroke="#000" stroke-width="1.7"/><path d="M403.5 714.70H409.1" stroke="#000" stroke-width="1.4"/><g transform="translate(401.0,718.65) scale(1,1.1)"><text x="0" y="0" font-size="11.6" text-anchor="end">10<tspan font-size="7.9" dy="-4.45"><tspan font-size="6.32">-</tspan><tspan dx="-0.2">8</tspan></tspan></text></g><path d="M403.5 697.60H409.1" stroke="#000" stroke-width="1.4"/><g transform="translate(401.0,701.55) scale(1,1.1)"><text x="0" y="0" font-size="11.6" text-anchor="end">10<tspan font-size="7.9" dy="-4.45"><tspan font-size="6.32">-</tspan><tspan dx="-0.2">7</tspan></tspan></text></g><path d="M403.5 680.50H409.1" stroke="#000" stroke-width="1.4"/><g transform="translate(401.0,684.45) scale(1,1.1)"><text x="0" y="0" font-size="11.6" text-anchor="end">10<tspan font-size="7.9" dy="-4.45"><tspan font-size="6.32">-</tspan><tspan dx="-0.2">6</tspan></tspan></text></g><path d="M403.5 663.40H409.1" stroke="#000" stroke-width="1.4"/><g transform="translate(401.0,667.35) scale(1,1.1)"><text x="0" y="0" font-size="11.6" text-anchor="end">10<tspan font-size="7.9" dy="-4.45"><tspan font-size="6.32">-</tspan><tspan dx="-0.2">5</tspan></tspan></text></g><path d="M403.5 646.30H409.1" stroke="#000" stroke-width="1.4"/><g transform="translate(401.0,650.25) scale(1,1.1)"><text x="0" y="0" font-size="11.6" text-anchor="end">10<tspan font-size="7.9" dy="-4.45"><tspan font-size="6.32">-</tspan><tspan dx="-0.2">4</tspan></tspan></text></g><path d="M403.5 629.20H409.1" stroke="#000" stroke-width="1.4"/><g transform="translate(401.0,633.15) scale(1,1.1)"><text x="0" y="0" font-size="11.6" text-anchor="end">10<tspan font-size="7.9" dy="-4.45"><tspan font-size="6.32">-</tspan><tspan dx="-0.2">3</tspan></tspan></text></g><path d="M403.5 612.10H409.1" stroke="#000" stroke-width="1.4"/><g transform="translate(401.0,616.05) scale(1,1.1)"><text x="0" y="0" font-size="11.6" text-anchor="end">10<tspan font-size="7.9" dy="-4.45"><tspan font-size="6.32">-</tspan><tspan dx="-0.2">2</tspan></tspan></text></g><path d="M403.5 595.00H409.1" stroke="#000" stroke-width="1.4"/><g transform="translate(401.0,598.95) scale(1,1.1)"><text x="0" y="0" font-size="11.6" text-anchor="end">10<tspan font-size="7.9" dy="-4.45"><tspan font-size="6.32">-</tspan><tspan dx="-0.2">1</tspan></tspan></text></g><path d="M403.5 577.90H409.1" stroke="#000" stroke-width="1.4"/><g transform="translate(401.0,581.85) scale(1,1.1)"><text x="0" y="0" font-size="11.6" text-anchor="end">10<tspan font-size="7.9" dy="-4.45">0</tspan></text></g><path d="M428.1 714.7V720.2" stroke="#000" stroke-width="1.4"/><path d="M457.8 714.7V720.2" stroke="#000" stroke-width="1.4"/><path d="M487.5 714.7V720.2" stroke="#000" stroke-width="1.4"/><path d="M516.7 714.7V720.2" stroke="#000" stroke-width="1.4"/><path d="M546.4 714.7V720.2" stroke="#000" stroke-width="1.4"/><path d="M575.8 714.7V720.2" stroke="#000" stroke-width="1.4"/><path d="M605.2 714.7V720.2" stroke="#000" stroke-width="1.4"/><path d="M634.7 714.7V720.2" stroke="#000" stroke-width="1.4"/><path d="M664.1 714.7V720.2" stroke="#000" stroke-width="1.4"/><path d="M419.0 588.2H437.4" stroke="#000" stroke-width="1.4"/><path d="M448.0 664.1H467.7" stroke="#000" stroke-width="1.4"/><path d="M477.7 687.6H497.1" stroke="#000" stroke-width="1.4"/><path d="M507.0 640.2H526.8" stroke="#000" stroke-width="1.4"/><path d="M536.4 588.0H556.0" stroke="#000" stroke-width="1.4"/><path d="M566.1 594.1H585.4" stroke="#000" stroke-width="1.4"/><path d="M595.0 642.6H615.1" stroke="#000" stroke-width="1.4"/><path d="M624.8 587.3H644.7" stroke="#000" stroke-width="1.4"/><path d="M654.2 622.3H674.1" stroke="#000" stroke-width="1.4"/><circle cx="420.9" cy="584.8" r="2.2" fill="#000000"/><circle cx="420.9" cy="592.9" r="2.2" fill="#000000"/><circle cx="428.1" cy="588.4" r="2.2" fill="#000000"/><circle cx="436.2" cy="584.3" r="2.2" fill="#000000"/><circle cx="436.2" cy="589.2" r="2.2" fill="#000000"/><circle cx="457.8" cy="657.1" r="2.2" fill="#fe0000"/><circle cx="453.6" cy="664.1" r="2.2" fill="#fe0000"/><circle cx="462.1" cy="664.1" r="2.2" fill="#fe0000"/><circle cx="453.6" cy="673.9" r="2.2" fill="#fe0000"/><circle cx="462.1" cy="673.9" r="2.2" fill="#fe0000"/><circle cx="483.3" cy="680.7" r="2.2" fill="#8c96d7"/><circle cx="491.8" cy="679.4" r="2.2" fill="#8c96d7"/><circle cx="483.3" cy="687.6" r="2.2" fill="#8c96d7"/><circle cx="491.8" cy="690.3" r="2.2" fill="#8c96d7"/><circle cx="483.3" cy="692.7" r="2.2" fill="#8c96d7"/><circle cx="516.7" cy="628.1" r="2.2" fill="#fc8306"/><circle cx="509.2" cy="640.2" r="2.2" fill="#fc8306"/><circle cx="516.7" cy="640.2" r="2.2" fill="#fc8306"/><circle cx="524.7" cy="642.9" r="2.2" fill="#fc8306"/><circle cx="509.2" cy="645.3" r="2.2" fill="#fc8306"/><circle cx="538.8" cy="585.7" r="2.2" fill="#f34dd4"/><circle cx="544.0" cy="584.8" r="2.2" fill="#f34dd4"/><circle cx="538.8" cy="590.9" r="2.2" fill="#f34dd4"/><circle cx="549.0" cy="588.0" r="2.2" fill="#f34dd4"/><circle cx="554.1" cy="588.0" r="2.2" fill="#f34dd4"/><circle cx="568.1" cy="586.9" r="2.2" fill="#9c6422"/><circle cx="568.1" cy="595.4" r="2.2" fill="#9c6422"/><circle cx="575.8" cy="594.1" r="2.2" fill="#9c6422"/><circle cx="583.5" cy="590.6" r="2.2" fill="#9c6422"/><circle cx="583.5" cy="595.2" r="2.2" fill="#9c6422"/><circle cx="605.2" cy="635.8" r="2.2" fill="#0e1a80"/><circle cx="597.4" cy="640.2" r="2.2" fill="#0e1a80"/><circle cx="605.2" cy="642.6" r="2.2" fill="#0e1a80"/><circle cx="613.0" cy="642.6" r="2.2" fill="#0e1a80"/><circle cx="597.4" cy="646.3" r="2.2" fill="#0e1a80"/><circle cx="626.9" cy="583.4" r="2.2" fill="#7e0aa3"/><circle cx="626.9" cy="590.7" r="2.2" fill="#7e0aa3"/><circle cx="634.7" cy="587.3" r="2.2" fill="#7e0aa3"/><circle cx="642.4" cy="583.9" r="2.2" fill="#7e0aa3"/><circle cx="642.4" cy="588.6" r="2.2" fill="#7e0aa3"/><circle cx="659.9" cy="615.6" r="2.2" fill="#a00a0a"/><circle cx="668.2" cy="618.1" r="2.2" fill="#a00a0a"/><circle cx="664.1" cy="622.4" r="2.2" fill="#a00a0a"/><circle cx="668.2" cy="627.3" r="2.2" fill="#a00a0a"/><circle cx="659.9" cy="629.9" r="2.2" fill="#a00a0a"/><text transform="translate(373.0,646.8) rotate(-90)" font-size="12" text-anchor="middle">Relative proportion</text><text class="xl" transform="translate(438.65,731.15) rotate(-45)" font-size="12" text-anchor="end">WT</text><text class="xl" transform="translate(469.40,733.40) rotate(-45)" font-size="12" text-anchor="end"><tspan font-size="13.6">Δ</tspan><tspan font-style="italic">ssaV</tspan></text><text class="xl" transform="translate(496.40,732.50) rotate(-45)" font-size="12" text-anchor="end">Efl</text><text class="xl" transform="translate(524.50,731.75) rotate(-45)" font-size="12" text-anchor="end">Alpha</text><text class="xl" transform="translate(552.05,731.85) rotate(-45)" font-size="12" text-anchor="end">Beta</text><text class="xl" transform="translate(584.35,729.90) rotate(-45)" font-size="12" text-anchor="end">Gamma</text><text class="xl" transform="translate(612.95,731.75) rotate(-45)" font-size="12" text-anchor="end">Delta</text><text class="xl" transform="translate(642.65,729.85) rotate(-45)" font-size="12" text-anchor="end">Epsilon</text><text class="xl" transform="translate(671.35,731.45) rotate(-45)" font-size="12" text-anchor="end">Zeta</text>
<text x="546.5" y="562.7" font-size="12" font-weight="bold" text-anchor="middle">Spleen</text>
</svg></body></html>
